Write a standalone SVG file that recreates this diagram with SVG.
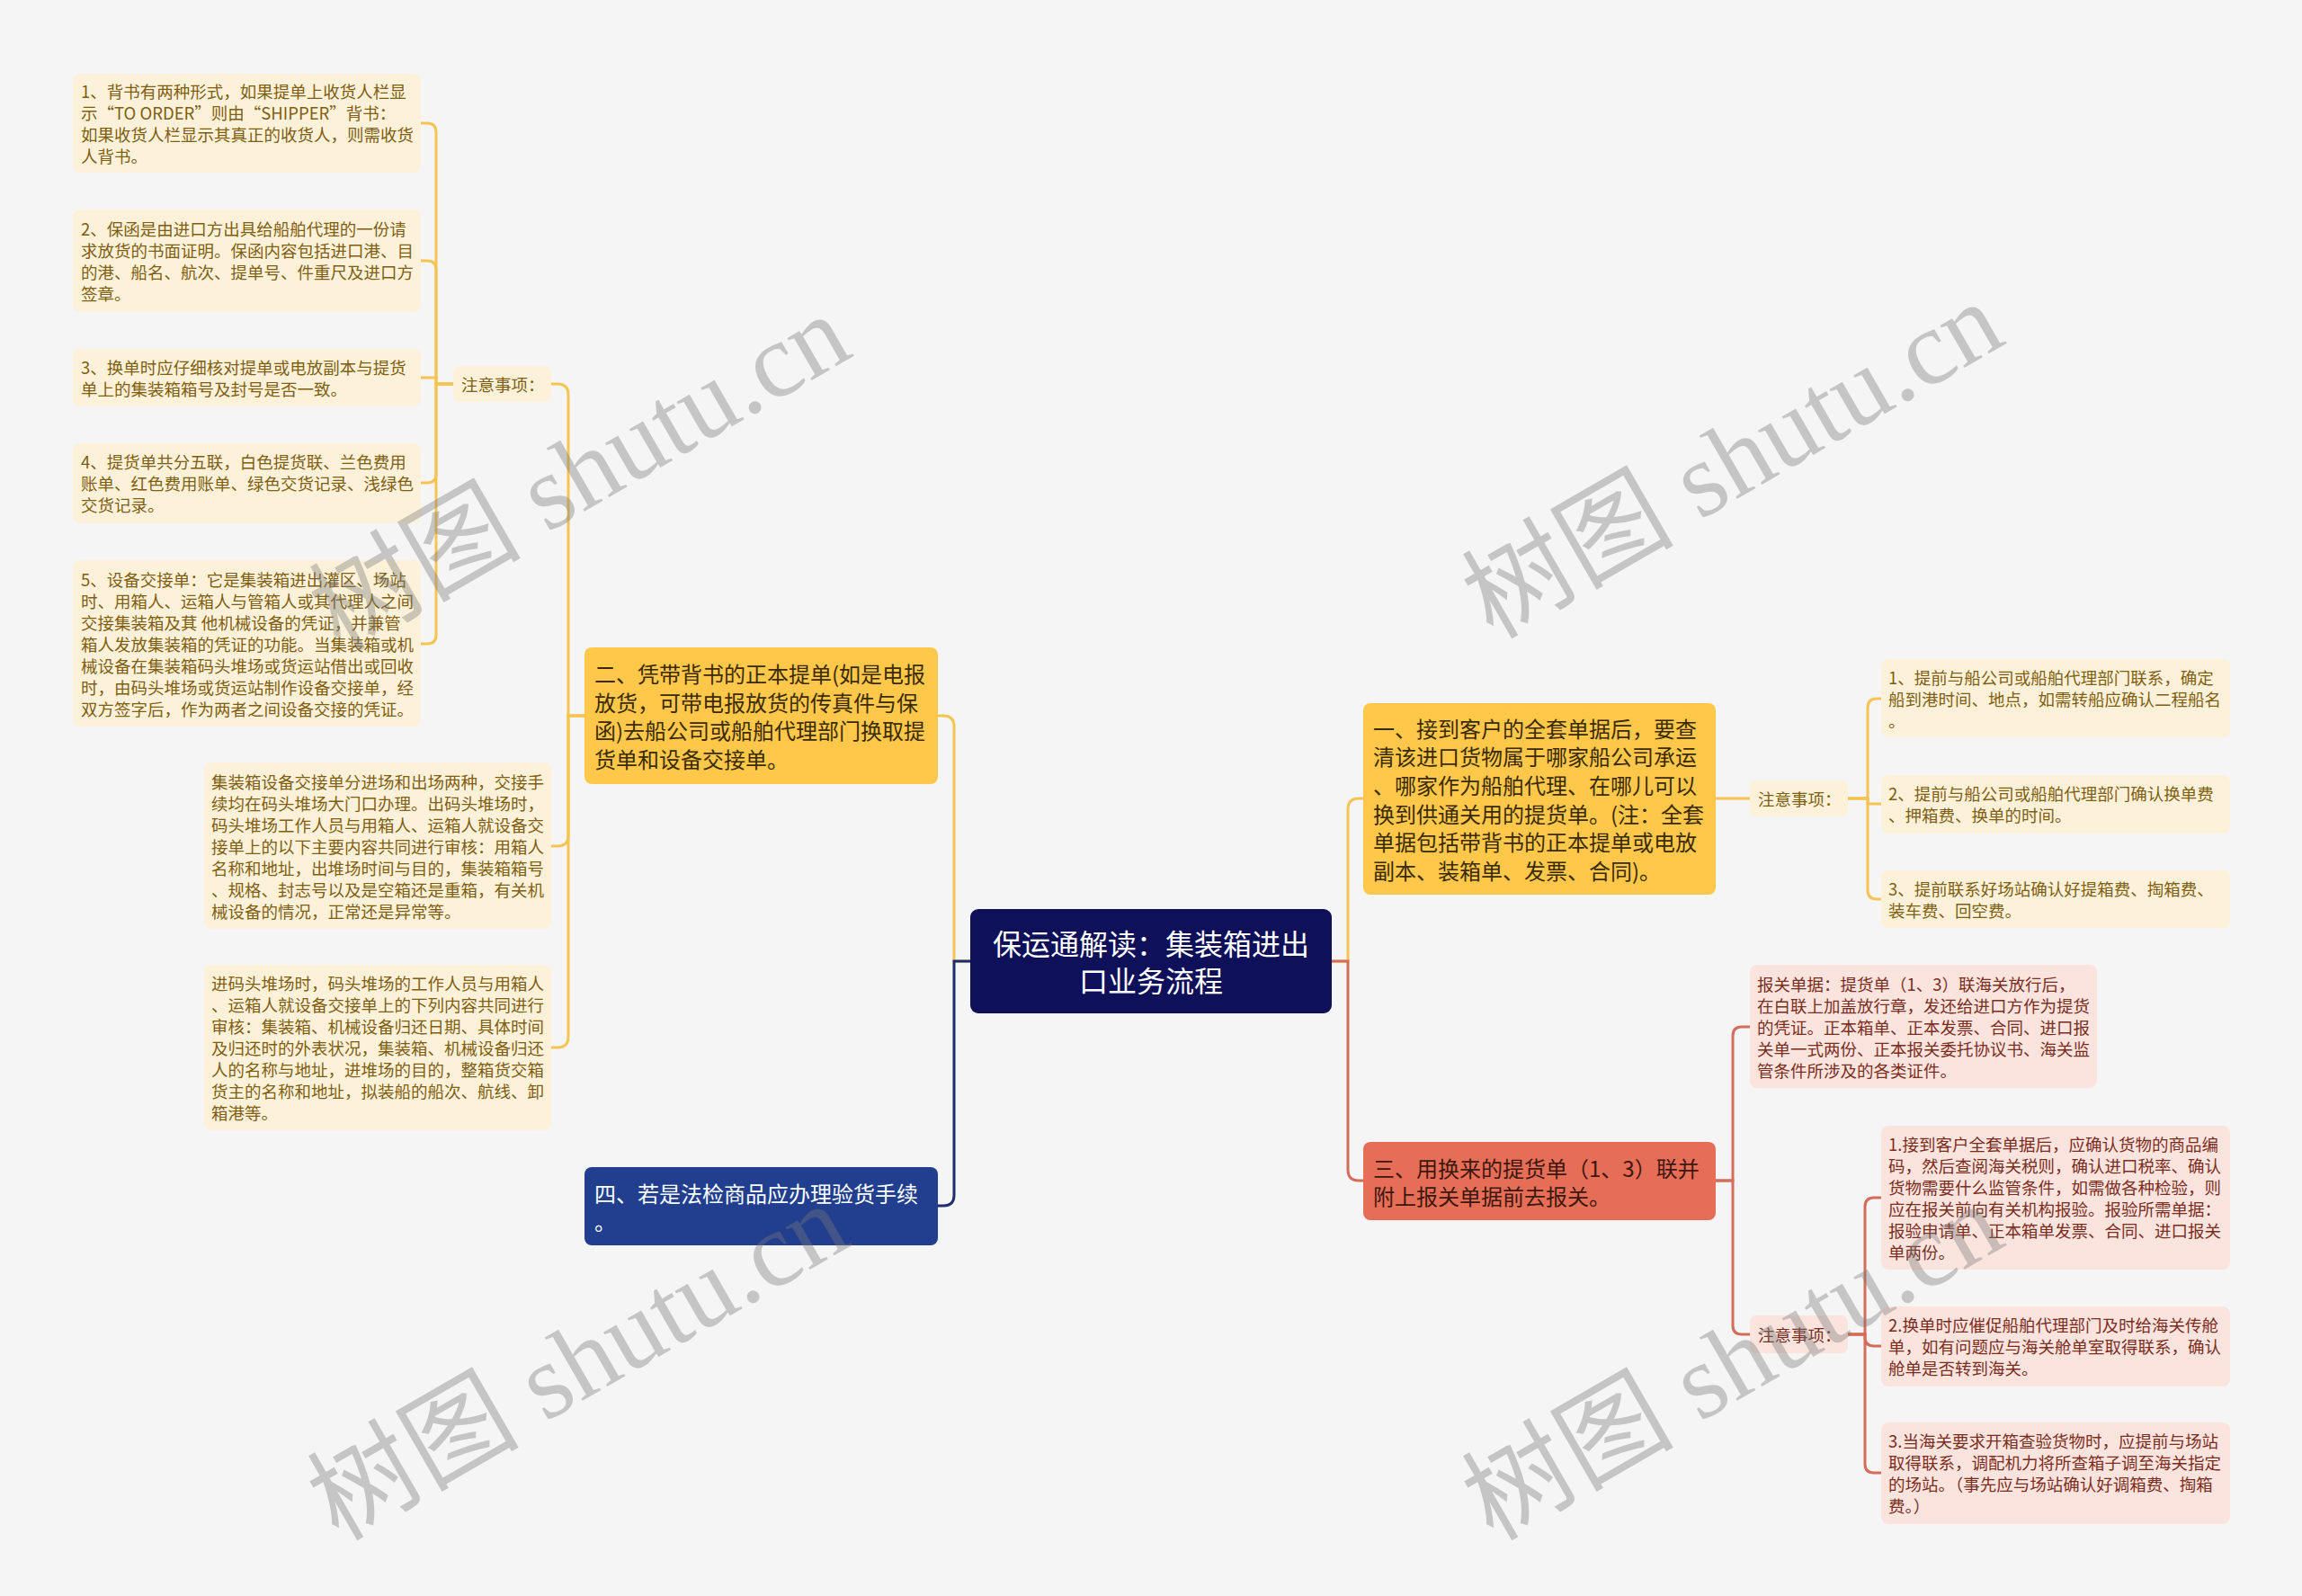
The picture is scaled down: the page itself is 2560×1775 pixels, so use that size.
<svg xmlns="http://www.w3.org/2000/svg" width="2560" height="1775" viewBox="0 0 2560 1775">
<style>
text{font-family:"Noto Sans CJK SC","Noto Sans",sans-serif;dominant-baseline:central}
.bg{fill:#f5f5f5}
.ctr{fill:#0f105a}
.yel{fill:#ffc84b}
.blu{fill:#213f8e}
.sal{fill:#e66e57}
.yleaf{fill:#fdf2d9}
.sleaf{fill:#fbe4de}
.tc{font-size:32px;fill:#ffffff;text-anchor:middle}
.tw{font-size:24px;fill:#ffffff}
.td{font-size:24px;fill:#3a2b05}
.tr{font-size:24px;fill:#3d1710}
.ty{font-size:18.5px;fill:#7f5e10}
.ts{font-size:18.5px;fill:#7a2d1d}
.cy{fill:none;stroke:#f5c452;stroke-width:3}
.cn{fill:none;stroke:#1e2d6d;stroke-width:3}
.cs{fill:none;stroke:#d46e5a;stroke-width:3}
.wm{font-family:"Liberation Serif","Noto Sans CJK SC",serif;font-size:118px;fill:#7a7a7a;opacity:0.38;text-anchor:middle}
</style>
<rect class="bg" x="0" y="0" width="2560" height="1775"/>
<g id="connectors">
<path class="cy" d="M1043,796 H1049 Q1061,796 1061,808 V1069 H1079"/>
<path class="cn" d="M1079,1069 H1061 V1329 Q1061,1341 1049,1341 H1043"/>
<path class="cy" d="M1481,1069 H1499 V900 Q1499,888 1511,888 H1516"/>
<path class="cs" d="M1481,1069 H1499 V1301 Q1499,1313 1511,1313 H1516"/>
<path class="cy" d="M650,796 H632 V439 Q632,427 620,427 H613"/>
<path class="cy" d="M650,796 H632 V929 Q632,941 620,941 H613"/>
<path class="cy" d="M650,796 H632 V1153 Q632,1165 620,1165 H613"/>
<path class="cy" d="M504,427 H485 V147 Q485,137 475,137 H468"/>
<path class="cy" d="M504,427 H485 V300 Q485,290 475,290 H468"/>
<path class="cy" d="M504,427 H485 V420 H468"/>
<path class="cy" d="M504,427 H485 V527 Q485,537 475,537 H468"/>
<path class="cy" d="M504,427 H485 V706 Q485,716 475,716 H468"/>
<path class="cy" d="M1908,888 H1946"/>
<path class="cy" d="M2055,888 H2077 V787 Q2077,777 2087,777 H2092"/>
<path class="cy" d="M2055,888 H2077 V894 H2092"/>
<path class="cy" d="M2055,888 H2077 V990 Q2077,1000 2087,1000 H2092"/>
<path class="cs" d="M1908,1313 H1927 V1152 Q1927,1142 1937,1142 H1946"/>
<path class="cs" d="M1908,1313 H1927 V1474 Q1927,1484 1937,1484 H1946"/>
<path class="cs" d="M2055,1484 H2074 V1342 Q2074,1332 2084,1332 H2092"/>
<path class="cs" d="M2055,1484 H2074 V1487 Q2074,1497 2084,1497 H2092"/>
<path class="cs" d="M2055,1484 H2074 V1628 Q2074,1638 2084,1638 H2092"/>
</g>
<g id="center">
<rect class="ctr" x="1079" y="1011" width="402" height="116" rx="9"/>
<text class="tc"><tspan x="1280" y="1048">保运通解读：集装箱进出</tspan><tspan x="1280" y="1089">口业务流程</tspan></text>
</g>
<g id="n2">
<rect class="yel" x="650" y="720" width="393" height="152" rx="8"/>
<text class="td"><tspan x="661" y="748">二、凭带背书的正本提单(如是电报</tspan><tspan x="661" y="780">放货，可带电报放货的传真件与保</tspan><tspan x="661" y="811">函)去船公司或船舶代理部门换取提</tspan><tspan x="661" y="843">货单和设备交接单。</tspan></text>
</g>
<g id="n4">
<rect class="blu" x="650" y="1298" width="393" height="87" rx="8"/>
<text class="tw"><tspan x="661" y="1326">四、若是法检商品应办理验货手续</tspan><tspan x="661" y="1357">。</tspan></text>
</g>
<g id="n1">
<rect class="yel" x="1516" y="782" width="392" height="213" rx="8"/>
<text class="td"><tspan x="1527" y="809">一、接到客户的全套单据后，要查</tspan><tspan x="1527" y="840">清该进口货物属于哪家船公司承运</tspan><tspan x="1527" y="872">、哪家作为船舶代理、在哪儿可以</tspan><tspan x="1527" y="904">换到供通关用的提货单。(注：全套</tspan><tspan x="1527" y="935">单据包括带背书的正本提单或电放</tspan><tspan x="1527" y="967">副本、装箱单、发票、合同)。</tspan></text>
</g>
<g id="n3">
<rect class="sal" x="1516" y="1270" width="392" height="87" rx="8"/>
<text class="tr"><tspan x="1527" y="1298">三、用换来的提货单（1、3）联并</tspan><tspan x="1527" y="1329">附上报关单据前去报关。</tspan></text>
</g>
<g id="note-left">
<rect class="yleaf" x="504" y="407" width="109" height="40" rx="7"/>
<text class="ty"><tspan x="513" y="427">注意事项：</tspan></text>
</g>
<g id="leaf-l1">
<rect class="yleaf" x="81" y="82" width="387" height="110" rx="8"/>
<text class="ty"><tspan x="90" y="101">1、背书有两种形式，如果提单上收货人栏显</tspan><tspan x="90" y="125">示“TO ORDER”则由“SHIPPER”背书：</tspan><tspan x="90" y="149">如果收货人栏显示其真正的收货人，则需收货</tspan><tspan x="90" y="173">人背书。</tspan></text>
</g>
<g id="leaf-l2">
<rect class="yleaf" x="81" y="233" width="387" height="114" rx="8"/>
<text class="ty"><tspan x="90" y="254">2、保函是由进口方出具给船舶代理的一份请</tspan><tspan x="90" y="278">求放货的书面证明。保函内容包括进口港、目</tspan><tspan x="90" y="302">的港、船名、航次、提单号、件重尺及进口方</tspan><tspan x="90" y="326">签章。</tspan></text>
</g>
<g id="leaf-l3">
<rect class="yleaf" x="81" y="388" width="387" height="64" rx="8"/>
<text class="ty"><tspan x="90" y="408">3、换单时应仔细核对提单或电放副本与提货</tspan><tspan x="90" y="432">单上的集装箱箱号及封号是否一致。</tspan></text>
</g>
<g id="leaf-l4">
<rect class="yleaf" x="81" y="493" width="387" height="89" rx="8"/>
<text class="ty"><tspan x="90" y="513">4、提货单共分五联，白色提货联、兰色费用</tspan><tspan x="90" y="537">账单、红色费用账单、绿色交货记录、浅绿色</tspan><tspan x="90" y="561">交货记录。</tspan></text>
</g>
<g id="leaf-l5">
<rect class="yleaf" x="81" y="623" width="387" height="185" rx="8"/>
<text class="ty"><tspan x="90" y="644">5、设备交接单：它是集装箱进出灌区、场站</tspan><tspan x="90" y="668">时、用箱人、运箱人与管箱人或其代理人之间</tspan><tspan x="90" y="692">交接集装箱及萁 他机械设备的凭证，并兼管</tspan><tspan x="90" y="716">箱人发放集装箱的凭证的功能。当集装箱或机</tspan><tspan x="90" y="740">械设备在集装箱码头堆场或货运站借出或回收</tspan><tspan x="90" y="764">时，由码头堆场或货运站制作设备交接单，经</tspan><tspan x="90" y="788">双方签字后，作为两者之间设备交接的凭证。</tspan></text>
</g>
<g id="leaf-l6">
<rect class="yleaf" x="227" y="848" width="386" height="185" rx="8"/>
<text class="ty"><tspan x="235" y="869">集装箱设备交接单分进场和出场两种，交接手</tspan><tspan x="235" y="893">续均在码头堆场大门口办理。出码头堆场时，</tspan><tspan x="235" y="917">码头堆场工作人员与用箱人、运箱人就设备交</tspan><tspan x="235" y="941">接单上的以下主要内容共同进行审核：用箱人</tspan><tspan x="235" y="965">名称和地址，出堆场时间与目的，集装箱箱号</tspan><tspan x="235" y="989">、规格、封志号以及是空箱还是重箱，有关机</tspan><tspan x="235" y="1013">械设备的情况，正常还是异常等。</tspan></text>
</g>
<g id="leaf-l7">
<rect class="yleaf" x="227" y="1073" width="386" height="184" rx="8"/>
<text class="ty"><tspan x="235" y="1093">进码头堆场时，码头堆场的工作人员与用箱人</tspan><tspan x="235" y="1117">、运箱人就设备交接单上的下列内容共同进行</tspan><tspan x="235" y="1141">审核：集装箱、机械设备归还日期、具体时间</tspan><tspan x="235" y="1165">及归还时的外表状况，集装箱、机械设备归还</tspan><tspan x="235" y="1189">人的名称与地址，进堆场的目的，整箱货交箱</tspan><tspan x="235" y="1213">货主的名称和地址，拟装船的船次、航线、卸</tspan><tspan x="235" y="1237">箱港等。</tspan></text>
</g>
<g id="note-r1">
<rect class="yleaf" x="1946" y="868" width="109" height="40" rx="7"/>
<text class="ty"><tspan x="1955" y="888">注意事项：</tspan></text>
</g>
<g id="leaf-ra1">
<rect class="yleaf" x="2092" y="733" width="388" height="87" rx="8"/>
<text class="ty"><tspan x="2100" y="753">1、提前与船公司或船舶代理部门联系，确定</tspan><tspan x="2100" y="777">船到港时间、地点，如需转船应确认二程船名</tspan><tspan x="2100" y="801">。</tspan></text>
</g>
<g id="leaf-ra2">
<rect class="yleaf" x="2092" y="862" width="388" height="65" rx="8"/>
<text class="ty"><tspan x="2100" y="882">2、提前与船公司或船舶代理部门确认换单费</tspan><tspan x="2100" y="906">、押箱费、换单的时间。</tspan></text>
</g>
<g id="leaf-ra3">
<rect class="yleaf" x="2092" y="968" width="388" height="64" rx="8"/>
<text class="ty"><tspan x="2100" y="988">3、提前联系好场站确认好提箱费、掏箱费、</tspan><tspan x="2100" y="1012">装车费、回空费。</tspan></text>
</g>
<g id="leaf-customs">
<rect class="sleaf" x="1946" y="1073" width="386" height="137" rx="8"/>
<text class="ts"><tspan x="1954" y="1094">报关单据：提货单（1、3）联海关放行后，</tspan><tspan x="1954" y="1118">在白联上加盖放行章，发还给进口方作为提货</tspan><tspan x="1954" y="1142">的凭证。正本箱单、正本发票、合同、进口报</tspan><tspan x="1954" y="1166">关单一式两份、正本报关委托协议书、海关监</tspan><tspan x="1954" y="1190">管条件所涉及的各类证件。</tspan></text>
</g>
<g id="note-r2">
<rect class="sleaf" x="1946" y="1463" width="109" height="42" rx="7"/>
<text class="ts"><tspan x="1955" y="1484">注意事项：</tspan></text>
</g>
<g id="leaf-rb1">
<rect class="sleaf" x="2092" y="1252" width="388" height="160" rx="8"/>
<text class="ts"><tspan x="2100" y="1272">1.接到客户全套单据后，应确认货物的商品编</tspan><tspan x="2100" y="1296">码，然后查阅海关税则，确认进口税率、确认</tspan><tspan x="2100" y="1320">货物需要什么监管条件，如需做各种检验，则</tspan><tspan x="2100" y="1344">应在报关前向有关机构报验。报验所需单据：</tspan><tspan x="2100" y="1368">报验申请单、正本箱单发票、合同、进口报关</tspan><tspan x="2100" y="1392">单两份。</tspan></text>
</g>
<g id="leaf-rb2">
<rect class="sleaf" x="2092" y="1453" width="388" height="89" rx="8"/>
<text class="ts"><tspan x="2100" y="1473">2.换单时应催促船舶代理部门及时给海关传舱</tspan><tspan x="2100" y="1497">单，如有问题应与海关舱单室取得联系，确认</tspan><tspan x="2100" y="1521">舱单是否转到海关。</tspan></text>
</g>
<g id="leaf-rb3">
<rect class="sleaf" x="2092" y="1582" width="388" height="113" rx="8"/>
<text class="ts"><tspan x="2100" y="1602">3.当海关要求开箱查验货物时，应提前与场站</tspan><tspan x="2100" y="1626">取得联系，调配机力将所查箱子调至海关指定</tspan><tspan x="2100" y="1650">的场站。（事先应与场站确认好调箱费、掏箱</tspan><tspan x="2100" y="1674">费。）</tspan></text>
</g>
<g id="watermarks">
<text class="wm" transform="translate(645,526) rotate(-30)">树图 shutu.cn</text>
<text class="wm" transform="translate(1927,512) rotate(-30)">树图 shutu.cn</text>
<text class="wm" transform="translate(643,1515) rotate(-30)">树图 shutu.cn</text>
<text class="wm" transform="translate(1927,1515) rotate(-30)">树图 shutu.cn</text>
</g>
</svg>
